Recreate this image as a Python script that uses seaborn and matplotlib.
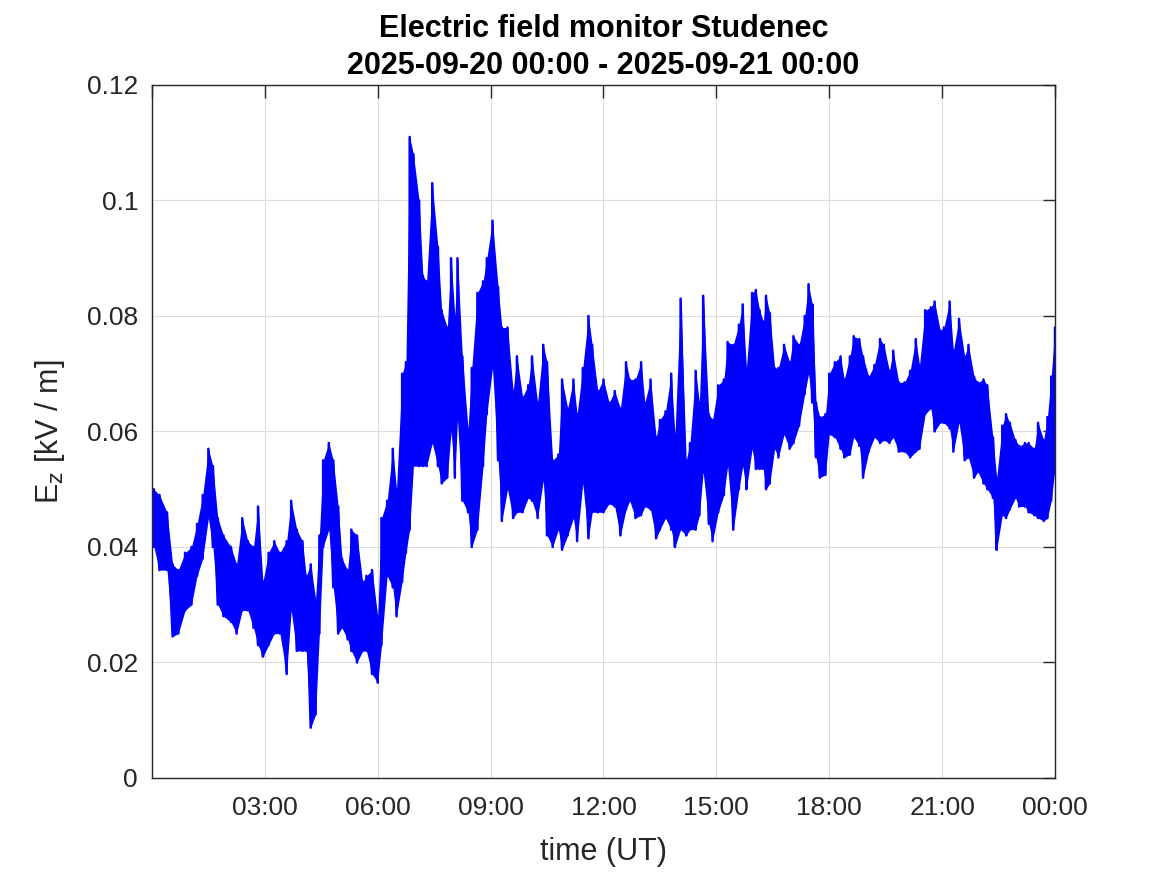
import numpy as np
import pandas as pd
import matplotlib
matplotlib.use("Agg")
import matplotlib.pyplot as plt
import matplotlib.dates as mdates
import seaborn as sns

# envelope of the 1 s record, read per ~10 min bin: hour of day, upper and lower value [kV/m]
hours = [0.05, 0.2, 0.4, 0.55, 0.7, 0.88, 1.05, 1.2, 1.35, 1.5, 1.62, 1.75, 1.9, 2.1, 2.25, 2.4,
         2.55, 2.7, 2.82, 2.95, 3.1, 3.25, 3.4, 3.58, 3.7, 3.85, 4.0,
         4.1, 4.22, 4.35, 4.45, 4.55, 4.7, 4.82, 4.95, 5.05, 5.2, 5.3, 5.45, 5.6, 5.7, 5.85, 6.0,
         6.1, 6.25, 6.4, 6.5, 6.65, 6.75, 6.85, 6.95, 7.1, 7.2, 7.3, 7.45, 7.6, 7.7, 7.85, 7.95,
         8.05, 8.12, 8.25, 8.4, 8.5, 8.65, 8.8, 8.9, 9.05, 9.2, 9.3, 9.45, 9.6, 9.7, 9.85, 10.0,
         10.1, 10.25, 10.4, 10.5, 10.65, 10.8, 10.9, 11.05, 11.2, 11.3, 11.45, 11.6, 11.7, 11.85, 12.0,
         12.15, 12.3, 12.45, 12.6, 12.7, 12.85, 13.0, 13.1, 13.25, 13.4, 13.5, 13.65, 13.8, 13.9,
         14.05, 14.2, 14.3, 14.45, 14.55, 14.65, 14.8, 14.9, 15.05, 15.2, 15.3, 15.45, 15.6, 15.7,
         15.8, 15.95,
         16.05, 16.15, 16.25, 16.32, 16.42, 16.55, 16.65, 16.8, 16.95, 17.05, 17.2, 17.35, 17.45,
         17.55, 17.65, 17.75, 17.9, 18.0, 18.15, 18.3, 18.4, 18.55, 18.65, 18.8, 18.9, 19.05, 19.2,
         19.35, 19.45, 19.6, 19.7, 19.85,
         20.0, 20.15, 20.3, 20.4, 20.55, 20.7, 20.8, 20.95, 21.05, 21.2, 21.3, 21.45, 21.6, 21.7,
         21.85, 21.95, 22.1, 22.2, 22.35, 22.45, 22.6, 22.7, 22.8, 22.95, 23.05, 23.2, 23.3, 23.45,
         23.55, 23.7, 23.8, 23.9, 24.0]

ez_high = [0.050, 0.049, 0.046, 0.037, 0.036, 0.039, 0.040, 0.044, 0.049, 0.057, 0.054, 0.045, 0.042, 0.040, 0.037, 0.045,
           0.041, 0.040, 0.047, 0.034, 0.039, 0.041, 0.039, 0.041, 0.048, 0.043, 0.041,
           0.035, 0.037, 0.031, 0.042, 0.055, 0.058, 0.055, 0.047, 0.038, 0.036, 0.043, 0.042, 0.034, 0.035, 0.036, 0.028,
           0.045, 0.048, 0.057, 0.050, 0.070, 0.072, 0.111, 0.108, 0.100, 0.087, 0.086, 0.103, 0.092, 0.081, 0.078, 0.090,
           0.080, 0.090, 0.073, 0.0605, 0.071, 0.084, 0.086, 0.090, 0.0965, 0.085, 0.078, 0.078, 0.067, 0.073, 0.066, 0.068,
           0.073, 0.065, 0.075, 0.072, 0.055, 0.056, 0.069, 0.064, 0.069, 0.063, 0.071, 0.080, 0.075, 0.067, 0.069,
           0.065, 0.067, 0.064, 0.072, 0.069, 0.069, 0.072, 0.065, 0.069, 0.059, 0.062, 0.0635, 0.070, 0.0595,
           0.083, 0.055, 0.058, 0.0705, 0.065, 0.0835, 0.063, 0.062, 0.068, 0.069, 0.0755, 0.075, 0.0785, 0.082,
           0.071, 0.084,
           0.0845, 0.081, 0.079, 0.0835, 0.0805, 0.071, 0.071, 0.075, 0.072, 0.0765, 0.075, 0.080, 0.0855,
           0.082, 0.065, 0.0625, 0.063, 0.070, 0.072, 0.073, 0.069, 0.073, 0.0765, 0.076, 0.073, 0.0695, 0.0715,
           0.076, 0.075, 0.0705, 0.074, 0.0685,
           0.0685, 0.0705, 0.076, 0.0715, 0.081, 0.0815, 0.0825, 0.0775, 0.078, 0.0825, 0.074, 0.0795, 0.073, 0.075,
           0.0695, 0.0685, 0.069, 0.068, 0.059, 0.052, 0.061, 0.063, 0.0615, 0.0585, 0.0575, 0.058, 0.058, 0.057,
           0.0615, 0.0585, 0.0625, 0.0695, 0.078]

ez_low = [0.040, 0.036, 0.036, 0.0245, 0.025, 0.029, 0.030, 0.035, 0.038, 0.045, 0.040, 0.030, 0.028, 0.027, 0.025, 0.029,
          0.029, 0.026, 0.023, 0.021, 0.023, 0.025, 0.025, 0.018, 0.029, 0.022, 0.022,
          0.022, 0.0087, 0.011, 0.025, 0.040, 0.043, 0.033, 0.025, 0.026, 0.024, 0.022, 0.020, 0.022, 0.022, 0.018, 0.0165,
          0.023, 0.035, 0.033, 0.028, 0.034, 0.039, 0.043, 0.054, 0.054, 0.054, 0.054, 0.058, 0.054, 0.051, 0.052, 0.060,
          0.052, 0.062, 0.048, 0.046, 0.040, 0.043, 0.054, 0.063, 0.071, 0.055, 0.0445, 0.050, 0.045, 0.046, 0.046, 0.0485,
          0.048, 0.045, 0.0515, 0.042, 0.040, 0.043, 0.0395, 0.042, 0.045, 0.041, 0.051, 0.0415, 0.046, 0.046, 0.046,
          0.0475, 0.047, 0.042, 0.0465, 0.048, 0.045, 0.0455, 0.047, 0.0465, 0.0415, 0.043, 0.045, 0.043, 0.040,
          0.043, 0.042, 0.043, 0.043, 0.0455, 0.053, 0.044, 0.041, 0.046, 0.049, 0.054, 0.043, 0.050, 0.054,
          0.050, 0.057,
          0.0535, 0.0535, 0.0535, 0.050, 0.051, 0.057, 0.0555, 0.0595, 0.057, 0.058, 0.061, 0.0665, 0.070,
          0.065, 0.0555, 0.052, 0.0525, 0.0595, 0.059, 0.057, 0.0555, 0.056, 0.059, 0.0575, 0.052, 0.0565, 0.059,
          0.058, 0.0585, 0.058, 0.059, 0.0565,
          0.0565, 0.0555, 0.0565, 0.057, 0.063, 0.064, 0.060, 0.0615, 0.0615, 0.0605, 0.0565, 0.0615, 0.055, 0.0555,
          0.052, 0.053, 0.051, 0.050, 0.0485, 0.0395, 0.0455, 0.045, 0.0465, 0.0485, 0.047, 0.047, 0.046, 0.0455,
          0.045, 0.0445, 0.045, 0.048, 0.0535]

start = pd.Timestamp("2025-09-20 00:00")
end = pd.Timestamp("2025-09-21 00:00")

times = start + pd.to_timedelta(np.array(hours), unit="h")

# zig-zag through each bin: low -> high, then on to the next bin
t = np.repeat(np.array(hours), 2)
v = np.column_stack([ez_low, ez_high]).ravel()
df = pd.DataFrame({"time": start + pd.to_timedelta(t, unit="h"), "ez": v})

sns.set_theme(style="white")
plt.rcParams["font.family"] = ["Liberation Sans", "DejaVu Sans"]

fig = plt.figure(figsize=(11.67, 8.75), dpi=100)
ax = fig.add_axes([0.1302, 0.1109, 0.7738, 0.792])

# the 1 s trace is so dense that it reads as a band between the envelopes
ax.fill_between(times, ez_low, ez_high, color="#0000ff", linewidth=0)
sns.lineplot(data=df, x="time", y="ez", sort=False, estimator=None,
             color="#0000ff", linewidth=1.8, ax=ax)

ax.set_xlim(start, end)
ax.set_ylim(0, 0.12)
ax.set_yticks(np.arange(0, 0.1201, 0.02))
ax.yaxis.set_major_formatter(plt.FuncFormatter(lambda y, p: "%g" % round(y, 3)))
ax.xaxis.set_major_locator(mdates.HourLocator(byhour=range(0, 24, 3)))
ax.xaxis.set_major_formatter(
    plt.FuncFormatter(lambda x, p: "" if abs(x - mdates.date2num(start)) < 1e-6 else mdates.num2date(x).strftime("%H:%M")))

ax.grid(True, color="#dcdcdc", linewidth=0.8)
ax.set_axisbelow(True)
ax.tick_params(direction="in", top=True, right=True, length=9, width=1,
               labelsize=19, colors="#262626", pad=13)
ax.tick_params(axis="y", pad=10)
for s in ax.spines.values():
    s.set_color("#262626")
    s.set_linewidth(1)

ax.set_xlabel("time (UT)", fontsize=22, color="#262626", labelpad=12)
ax.set_ylabel(r"E$_{\mathrm{z}}$ [kV / m]", fontsize=22, color="#262626", labelpad=14)
ax.set_title("Electric field monitor Studenec\n2025-09-20 00:00 - 2025-09-21 00:00",
             fontsize=22, fontweight="bold", color="black", pad=8, linespacing=1.3)

fig.savefig("out.png", dpi=100)
